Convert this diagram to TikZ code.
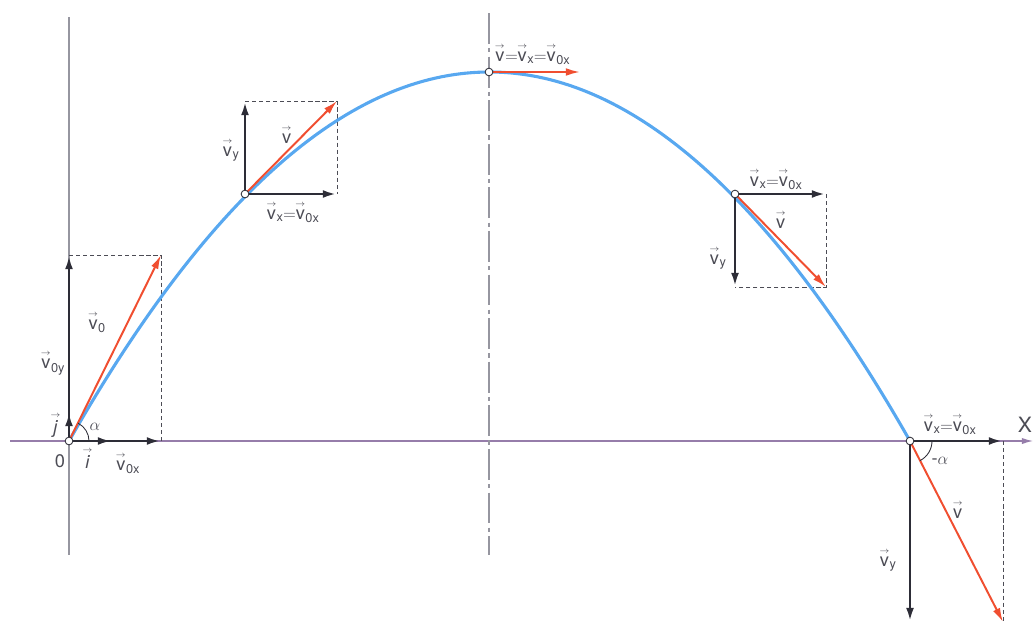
\documentclass[tikz,border=0pt]{standalone}
\usepackage{amsmath}
\usepackage{fontspec}
\setmainfont{TeX Gyre Heros}
\usetikzlibrary{arrows.meta}
\definecolor{curveblue}{RGB}{88,168,240}
\definecolor{vred}{RGB}{240,78,48}
\definecolor{vdark}{RGB}{45,45,55}
\definecolor{axgray}{RGB}{150,150,160}
\definecolor{axpurple}{RGB}{150,125,170}
\newcommand\vect[2][]{$\overset{\scriptscriptstyle\rightarrow}{\text{#2}}_{\text{#1}}$}
\newcommand\eq{\kern-0.5pt$=$\kern-0.5pt}
\tikzset{
  comp/.style={draw=vdark,line width=2pt,-{Latex[length=10pt,width=5.5pt]}},
  vel/.style={draw=vred,line width=1.4pt,-{Latex[length=10pt,width=5.5pt]}},
  guide/.style={draw=vdark!85,line width=0.7pt,dash pattern=on 3pt off 2pt},
  axis/.style={draw=axgray,line width=0.8pt},
  pt/.style={circle,draw=vdark,fill=white,line width=0.6pt,inner sep=0pt,minimum size=5.5pt},
  lab/.style={font=\fontsize{13}{15}\selectfont,text=vdark!85,inner sep=1pt}
}
\begin{document}
\begin{tikzpicture}[x=0.025cm,y=-0.025cm]
\useasboundingbox (0,0) rectangle (1033,626);
% axes
\coordinate (xl) at (10,441);
\coordinate (xr) at (1033,441);
\coordinate (yt) at (69,17);
\coordinate (yb) at (69,555);
\coordinate (st) at (489,13);
\coordinate (sb) at (489,555);
\draw[draw=axpurple,line width=0.8pt,-{Latex[length=8pt,width=4.5pt]}] (xl) -- (xr);
\draw[axis] (yt) -- (yb);
\draw[axis,line width=1pt,dash pattern=on 22pt off 3pt on 3pt off 3pt] (st) -- (sb);
% points
\coordinate (O) at (69,441);
\coordinate (P2) at (245,194);
\coordinate (A) at (489,72);
\coordinate (P4) at (735,194);
\coordinate (L) at (910,441);
% ends
\coordinate (i) at (112,441);
\coordinate (j) at (69,412);
\coordinate (v0y) at (69,255);
\coordinate (v0x) at (161,441);
\coordinate (v0) at (161,255);
\coordinate (p2y) at (245,101);
\coordinate (p2x) at (337,194);
\coordinate (p2v) at (337,101);
\coordinate (av) at (580,72);
\coordinate (p4x) at (826,194);
\coordinate (p4y) at (735,287);
\coordinate (p4v) at (826,287);
\coordinate (lx) at (1003,441);
\coordinate (ly) at (910,622);
\coordinate (lv) at (1003,622);
% guides
\draw[guide] (v0y) -- (v0) -- (v0x);
\draw[guide] (p2y) -- (p2v) -- (p2x);
\draw[guide] (p4x) -- (p4v) -- (p4y);
\draw[guide] (lx) -- (lv);
% curve
\draw[curveblue,line width=2.2pt] plot[domain=69:910,samples=120,smooth] (\x,{72+369*((\x-489.5)/420.5)^2});
% components
\draw[comp] (O) -- (v0x);
\draw[comp] (O) -- (i);
\draw[comp] (O) -- (v0y);
\draw[comp] (O) -- (j);
\draw[comp] (P2) -- (p2y);
\draw[comp] (P2) -- (p2x);
\draw[comp] (P4) -- (p4x);
\draw[comp] (P4) -- (p4y);
\draw[comp] (L) -- (lx);
\draw[comp] (L) -- (ly);
% velocities
\draw[vel] (O) -- (v0);
\draw[vel] (P2) -- (p2v);
\draw[vel] (A) -- (av);
\draw[vel] (P4) -- (p4v);
\draw[vel] (L) -- (lv);
% angles
\draw[vdark,line width=0.6pt] ([xshift=0.5cm]O) arc[start angle=0,end angle=63,radius=0.5cm];
\draw[vdark,line width=0.6pt] ([xshift=0.55cm]L) arc[start angle=0,end angle=-63,radius=0.55cm];
% point markers
\foreach \p in {O,P2,A,P4,L} \node[pt] at (\p) {};
% labels
\node[lab] (l0) at (60,461) {0};
\node[lab] (li) at (88,459) {\vect{\textit{i}}};
\node[lab] (lj) at (56,425) {\vect{\textit{j}}};
\node[lab] (la) at (95,427) {$\alpha$};
\node[lab] (lv0y) at (53,363) {\vect[0y]{v}};
\node[lab] (lv0) at (97,322) {\vect[0]{v}};
\node[lab] (lv0x) at (128,463) {\vect[0x]{v}};
\node[lab] (l2y) at (231,150) {\vect[y]{v}};
\node[lab] (l2v) at (287,136) {\vect{v}};
\node[lab] (l2x) at (293,212) {\vect[x]{v}\eq\vect[0x]{v}};
\node[lab,anchor=west] (lav) at (493,54) {\vect{v}\eq\vect[x]{v}\eq\vect[0x]{v}};
\node[lab] (l4x) at (776,179) {\vect[x]{v}\eq\vect[0x]{v}};
\node[lab] (l4v) at (781,221) {\vect{v}};
\node[lab] (l4y) at (718,258) {\vect[y]{v}};
\node[lab] (llx) at (950,424) {\vect[x]{v}\eq\vect[0x]{v}};
\node[lab] (lla) at (940,461) {-$\alpha$};
\node[lab] (llv) at (958,511) {\vect{v}};
\node[lab] (lly) at (888,560) {\vect[y]{v}};
\node[lab,font=\fontsize{15}{17}\selectfont] (lX) at (1025,425) {X};
\end{tikzpicture}
\end{document}
